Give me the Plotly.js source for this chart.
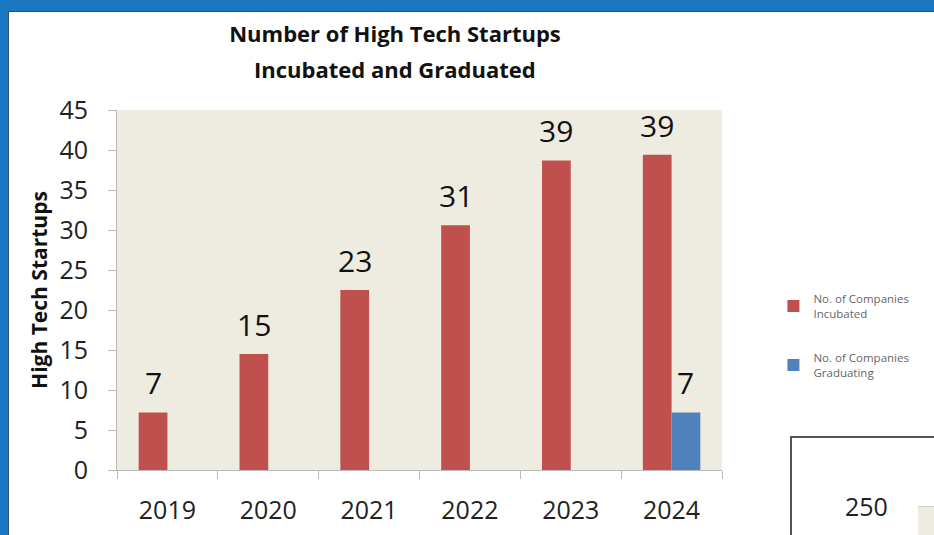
<!DOCTYPE html>
<html>
<head>
<meta charset="utf-8">
<script src="https://cdn.plot.ly/plotly-3.0.1.min.js"></script>
<style>
  html, body { margin:0; padding:0; width:934px; height:535px; overflow:hidden; background:#1a78c2; }
  #frame { position:absolute; left:8px; top:11px; width:926px; height:524px; background:#ffffff; border-left:1px solid #2f4f6f; border-top:1px solid #2f4f6f; }
  #box2 { position:absolute; left:790px; top:436px; width:160px; height:120px; border-left:2px solid #555; border-top:2px solid #555; background:#fff; }
  #box2 .lbl { position:absolute; left:53px; top:51px; font-family:'Open Sans', sans-serif; font-size:25px; color:#222; line-height:34px; }
  #box2 .area { position:absolute; left:126px; top:68px; width:60px; height:60px; background:#eeece1; border-top:1px solid #ccc; }
  #chart { position:absolute; left:0; top:0; width:934px; height:535px; }
</style>
</head>
<body>
<div id="frame"></div>
<div id="box2"><span class="lbl">250</span><div class="area"></div></div>
<div id="chart"></div>
<script>
const years = ['2019','2020','2021','2022','2023','2024'];
const incubated = [7.2, 14.5, 22.5, 30.6, 38.7, 39.4];
const incubatedLabels = ['7','15','23','31','39','39'];
const graduating = [null, null, null, null, null, 7.2];
const graduatingLabels = ['', '', '', '', '', '7'];
const seriesNames = ['No. of Companies<br>Incubated', 'No. of Companies<br>Graduating'];
const titleLines = ['Number of High Tech Startups', 'Incubated and Graduated'];
const yTicks = [0,5,10,15,20,25,30,35,40,45];

const FONT = 'Open Sans, sans-serif';
const BARGAP = 0.43;
const barHalf = (1 - BARGAP) / 4; // centre offset of each bar in a two-bar group, in category units

const traces = [
  { type:'bar', x:years, y:incubated, name:seriesNames[0], legendgroup:'inc', marker:{color:'#c0504d'}, hoverinfo:'x+y' },
  { type:'bar', x:years, y:graduating, name:seriesNames[1], legendgroup:'grad', marker:{color:'#4f81bd'}, hoverinfo:'x+y' }
];

const annotations = [];
years.forEach((yr, i) => {
  if (incubated[i] != null && incubatedLabels[i]) {
    annotations.push({ x: i - barHalf, y: incubated[i], xref:'x', yref:'y', text: incubatedLabels[i],
      showarrow:false, yanchor:'bottom', xanchor:'center', yshift:7, font:{family:FONT, size:30, color:'#111'} });
  }
  if (graduating[i] != null && graduatingLabels[i]) {
    annotations.push({ x: i + barHalf, y: graduating[i], xref:'x', yref:'y', text: graduatingLabels[i],
      showarrow:false, yanchor:'bottom', xanchor:'center', yshift:7, font:{family:FONT, size:30, color:'#111'} });
  }
});
annotations.push({ x:(395-117)/605, xref:'paper', y:1 + (110-69)/360, yref:'paper', xanchor:'center', yanchor:'middle',
  text:'<b>' + titleLines[1] + '</b>', showarrow:false, font:{family:FONT, size:22, color:'#111'} });

const layout = {
  width:934, height:535,
  margin:{l:117, r:212, t:110, b:65},
  paper_bgcolor:'rgba(0,0,0,0)',
  plot_bgcolor:'#eeece1',
  barmode:'group', bargap:BARGAP, bargroupgap:0,
  title:{ text:'<b>' + titleLines[0] + '</b>',
          font:{family:FONT, size:22, color:'#111'},
          x:395/934, xref:'container', xanchor:'center', y:1 - 34/535, yref:'container', yanchor:'middle' },
  xaxis:{ type:'category', tickvals:years, ticks:'outside', tickson:'boundaries', ticklen:8, tickcolor:'#bbb',
          showline:true, linecolor:'#bbb', linewidth:1, showgrid:false,
          tickfont:{family:FONT, size:25, color:'#222'}, ticklabelstandoff:18 },
  yaxis:{ range:[0,45], tickvals:yTicks, ticks:'outside', ticklen:8, tickcolor:'#bbb',
          showline:true, linecolor:'#bbb', linewidth:1, showgrid:false, zeroline:false,
          tickfont:{family:FONT, size:25, color:'#222'}, ticklabelstandoff:15,
          title:{ text:'<b>High Tech Startups</b>', font:{family:FONT, size:21, color:'#111'}, standoff:6 } },
  legend:{ x:1.085, xanchor:'left', y:0.515, yanchor:'top', font:{family:FONT, size:11.5, color:'#666'},
           tracegroupgap:26, bgcolor:'rgba(0,0,0,0)', itemwidth:30, traceorder:'grouped' },
  annotations: annotations,
  showlegend:true
};

Plotly.newPlot('chart', traces, layout, {displayModeBar:false, staticPlot:true});
</script>
</body>
</html>
